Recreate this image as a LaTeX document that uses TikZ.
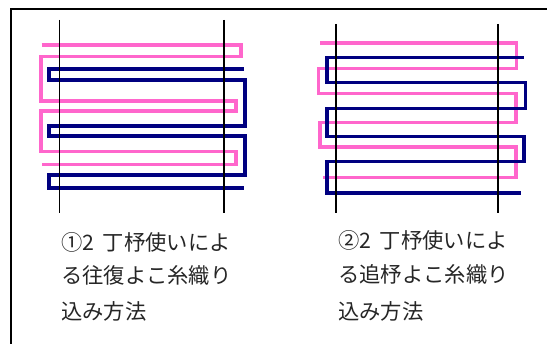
\documentclass[tikz,border=0pt]{standalone}
\usepackage{fontspec}
\newfontfamily\cjk{Noto Sans CJK JP}
\definecolor{weftpink}{RGB}{255,102,204}
\definecolor{weftnavy}{RGB}{0,0,128}
\begin{document}
\begin{tikzpicture}[x=1pt,y=-1pt,
  frameline/.style={line width=1.6pt,black},
  warp/.style={line width=1.4pt,black},
  pinkweft/.style={line width=3.4pt,weftpink,line join=miter},
  navyweft/.style={line width=3.4pt,weftnavy,line join=miter},
  caption/.style={anchor=west,inner sep=0pt,font=\cjk\fontsize{21.3}{21.3}\selectfont,text=black!85}]
\useasboundingbox (0,0) rectangle (547,344);
% frame
\draw[frameline] (11,344) -- (11,9) -- (547,9);
% left figure
\draw[pinkweft] (41.7,45)--(241,45)--(241,56.5)--(41,56.5)--(41,101)--(236,101)--(236,111)--(41,111)--(41,151.5)--(236,151.5)--(236,164.5)--(41.7,164.5);
\draw[navyweft] (244,69)--(49,69)--(49,80)--(245,80)--(245,126)--(49,126)--(49,136)--(245,136)--(245,175)--(49,175)--(49,188)--(244,188);
\draw[warp] (59.3,20) -- (59.3,213);
\draw[warp] (224,20) -- (224,213);
% right figure
\draw[pinkweft] (320,43)--(516.5,43)--(516.5,68.5)--(318.5,68.5)--(318.5,93.5)--(516,93.5)--(516,122.5)--(320,122.5)--(320,147)--(516,147)--(516,177.5)--(323,177.5);
\draw[navyweft] (523.5,57.7)--(327,57.7)--(327,82.7)--(525.5,82.7)--(525.5,108.3)--(327,108.3)--(327,136.7)--(524,136.7)--(524,161.7)--(327,161.7)--(327,193)--(521,193);
\draw[warp] (336,24) -- (336,213);
\draw[warp] (498,24) -- (498,213);
% captions
\node[caption] (l1) at (61,242) {①2\hspace{0.4em}丁杼使いによ};
\node[caption] (l2) at (61,275) {る往復よこ糸織り};
\node[caption] (l3) at (61,311) {込み方法};
\node[caption] (r1) at (338,240) {②2\hspace{0.4em}丁杼使いによ};
\node[caption] (r2) at (338,274) {る追杼よこ糸織り};
\node[caption] (r3) at (338,311) {込み方法};
\end{tikzpicture}
\end{document}
